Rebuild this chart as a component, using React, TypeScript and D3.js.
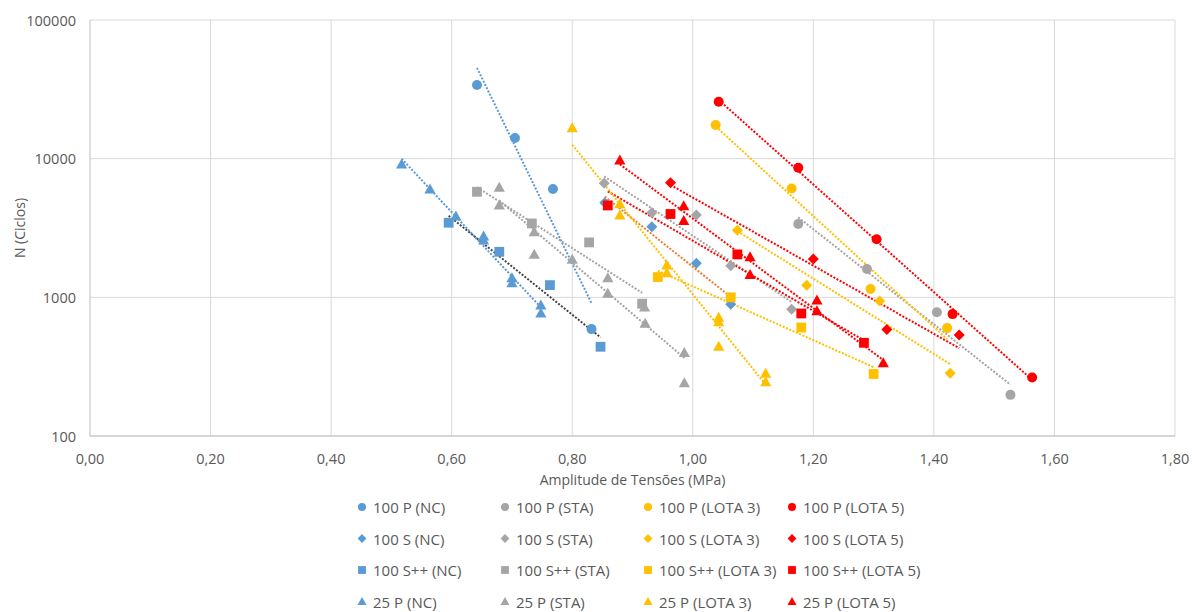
import React from "react";
import * as d3 from "d3";

// ---------- data ----------
const xTicks = [0, 0.2, 0.4, 0.6, 0.8, 1.0, 1.2, 1.4, 1.6, 1.8];
const yTicks = [100, 1000, 10000, 100000];

const p100NcX = [0.642, 0.705, 0.768, 0.832];
const p100NcN = [34000, 14100, 6040, 590];
const s100NcX = [0.854, 0.932, 1.006, 1.063];
const s100NcN = [4800, 3230, 1760, 890];
const spp100NcX = [0.595, 0.679, 0.763, 0.847];
const spp100NcN = [3450, 2130, 1225, 440];
const p25NcX = [0.517, 0.564, 0.607, 0.653, 0.653, 0.7, 0.7, 0.748, 0.748];
const p25NcN = [9150, 6040, 3850, 2770, 2590, 1380, 1270, 880, 770];

const p100StaX = [1.175, 1.289, 1.405, 1.527];
const p100StaN = [3380, 1600, 780, 198];
const s100StaX = [0.853, 0.932, 1.006, 1.063, 1.164];
const s100StaN = [6640, 4070, 3920, 1690, 820];
const spp100StaX = [0.642, 0.733, 0.828, 0.916];
const spp100StaN = [5770, 3410, 2490, 900];
const p25StaX = [0.679, 0.679, 0.737, 0.737, 0.8, 0.859, 0.859, 0.92, 0.921, 0.986, 0.986];
const p25StaN = [6210, 4630, 2970, 2040, 1880, 1380, 1070, 850, 650, 400, 242];

const p100L3X = [1.038, 1.164, 1.295, 1.422];
const p100L3N = [17500, 6100, 1150, 600];
const s100L3X = [1.074, 1.189, 1.31, 1.427];
const s100L3N = [3050, 1220, 940, 283];
const spp100L3X = [0.942, 1.063, 1.18, 1.3];
const spp100L3N = [1400, 1000, 606, 280];
const p25L3X = [0.8, 0.879, 0.879, 0.957, 0.957, 1.043, 1.043, 1.043, 1.121, 1.121];
const p25L3N = [16700, 4730, 3920, 1710, 1500, 716, 666, 444, 283, 246];

const p100L5X = [1.043, 1.175, 1.305, 1.431, 1.563];
const p100L5N = [25700, 8600, 2620, 757, 264];
const s100L5X = [0.963, 1.2, 1.322, 1.442];
const s100L5N = [6700, 1890, 587, 536];
const spp100L5X = [0.859, 0.963, 1.074, 1.18, 1.284];
const spp100L5N = [4600, 3990, 2040, 765, 470];
const p25L5X = [0.879, 0.985, 0.985, 1.095, 1.095, 1.206, 1.206, 1.316];
const p25L5N = [9770, 4570, 3570, 1960, 1460, 955, 800, 337];

const C_NC = "#5B9BD5";
const C_STA = "#A5A5A5";
const C_L3 = "#FFC000";
const C_L5 = "#FF0000";

type Shape = "circle" | "diamond" | "square" | "triangle";
interface Series { name: string; xs: number[]; ns: number[]; color: string; trend: string; shape: Shape; }

const series: Series[] = [
  { name: "100 P (NC)", xs: p100NcX, ns: p100NcN, color: C_NC, trend: C_NC, shape: "circle" },
  { name: "100 P (STA)", xs: p100StaX, ns: p100StaN, color: C_STA, trend: C_STA, shape: "circle" },
  { name: "100 P (LOTA 3)", xs: p100L3X, ns: p100L3N, color: C_L3, trend: C_L3, shape: "circle" },
  { name: "100 P (LOTA 5)", xs: p100L5X, ns: p100L5N, color: C_L5, trend: C_L5, shape: "circle" },
  { name: "100 S (NC)", xs: s100NcX, ns: s100NcN, color: C_NC, trend: "#ED7D31", shape: "diamond" },
  { name: "100 S (STA)", xs: s100StaX, ns: s100StaN, color: C_STA, trend: C_STA, shape: "diamond" },
  { name: "100 S (LOTA 3)", xs: s100L3X, ns: s100L3N, color: C_L3, trend: C_L3, shape: "diamond" },
  { name: "100 S (LOTA 5)", xs: s100L5X, ns: s100L5N, color: C_L5, trend: C_L5, shape: "diamond" },
  { name: "100 S++ (NC)", xs: spp100NcX, ns: spp100NcN, color: C_NC, trend: "#404040", shape: "square" },
  { name: "100 S++ (STA)", xs: spp100StaX, ns: spp100StaN, color: C_STA, trend: C_STA, shape: "square" },
  { name: "100 S++ (LOTA 3)", xs: spp100L3X, ns: spp100L3N, color: C_L3, trend: C_L3, shape: "square" },
  { name: "100 S++ (LOTA 5)", xs: spp100L5X, ns: spp100L5N, color: C_L5, trend: C_L5, shape: "square" },
  { name: "25 P (NC)", xs: p25NcX, ns: p25NcN, color: C_NC, trend: C_NC, shape: "triangle" },
  { name: "25 P (STA)", xs: p25StaX, ns: p25StaN, color: C_STA, trend: C_STA, shape: "triangle" },
  { name: "25 P (LOTA 3)", xs: p25L3X, ns: p25L3N, color: C_L3, trend: C_L3, shape: "triangle" },
  { name: "25 P (LOTA 5)", xs: p25L5X, ns: p25L5N, color: C_L5, trend: C_L5, shape: "triangle" },
];

const FONT = "'Open Sans', sans-serif";
const TXT = "#595959";

function markerPath(shape: Shape, x: number, y: number, s: number): string {
  switch (shape) {
    case "circle": {
      const r = 5 * s;
      return `M${x - r},${y}a${r},${r} 0 1,0 ${2 * r},0a${r},${r} 0 1,0 ${-2 * r},0Z`;
    }
    case "diamond": {
      const h = 5.5 * s;
      return `M${x},${y - h}L${x + h},${y}L${x},${y + h}L${x - h},${y}Z`;
    }
    case "square": {
      const h = 4.9 * s;
      return `M${x - h},${y - h}H${x + h}V${y + h}H${x - h}Z`;
    }
    case "triangle": {
      const w = 5.6 * s;
      return `M${x},${y - 5.6 * s}L${x + w},${y + 4.4 * s}L${x - w},${y + 4.4 * s}Z`;
    }
  }
}

function fit(xs: number[], ns: number[]) {
  const ly = ns.map((n) => Math.log10(n));
  const mx = d3.mean(xs)!;
  const my = d3.mean(ly)!;
  let sxy = 0, sxx = 0;
  xs.forEach((x, i) => { sxy += (x - mx) * (ly[i] - my); sxx += (x - mx) * (x - mx); });
  const b = sxy / sxx;
  const a = my - b * mx;
  return (x: number) => Math.pow(10, a + b * x);
}

export default function App() {
  const left = 90, right = 1175, top = 20, bottom = 436;
  const x = d3.scaleLinear().domain([0, 1.8]).range([left, right]);
  const y = d3.scaleLog().domain([100, 100000]).range([bottom, top]);
  const fmtX = (v: number) => v.toFixed(2).replace(".", ",");

  const legendCols = [362, 505, 648, 792];
  const legendRows = [507, 538.5, 570, 601.5];

  return (
    <svg width={1192} height={612} style={{ position: "absolute", left: 0, top: 0, background: "#fff" }}>
      <rect x={0} y={0} width={1192} height={612} fill="#fff" />
      {/* gridlines */}
      {yTicks.map((t) => (
        <line key={"hy" + t} x1={left} x2={right} y1={y(t)} y2={y(t)} stroke="#D9D9D9" strokeWidth={1} />
      ))}
      {xTicks.map((t) => (
        <line key={"vx" + t} x1={x(t)} x2={x(t)} y1={top} y2={bottom} stroke={t === 0 ? "#BFBFBF" : "#D9D9D9"} strokeWidth={1} />
      ))}
      <line x1={left} x2={right} y1={bottom} y2={bottom} stroke="#BFBFBF" strokeWidth={1} />
      {/* tick labels */}
      {yTicks.map((t) => (
        <text key={"ly" + t} x={76} y={y(t)} textAnchor="end" dominantBaseline="central" fontFamily={FONT} fontSize={14.5} fill={TXT}>
          {String(t)}
        </text>
      ))}
      {xTicks.map((t) => (
        <text key={"lx" + t} x={x(t)} y={458} textAnchor="middle" dominantBaseline="central" fontFamily={FONT} fontSize={14.5} fill={TXT}>
          {fmtX(t)}
        </text>
      ))}
      <text x={(left + right) / 2} y={479} textAnchor="middle" dominantBaseline="central" fontFamily={FONT} fontSize={14} fill={TXT}>
        Amplitude de Tensões (MPa)
      </text>
      <text transform={`translate(19,${(top + bottom) / 2}) rotate(-90)`} textAnchor="middle" dominantBaseline="central" fontFamily={FONT} fontSize={14} fill={TXT}>
        N (Ciclos)
      </text>
      {/* trendlines */}
      {series.map((s) => {
        const f = fit(s.xs, s.ns);
        const x0 = d3.min(s.xs)!, x1 = d3.max(s.xs)!;
        return (
          <line key={"tr" + s.name} x1={x(x0)} y1={y(f(x0))} x2={x(x1)} y2={y(f(x1))}
            stroke={s.trend} strokeWidth={2} strokeDasharray="2,1.6" />
        );
      })}
      {/* markers */}
      {series.map((s) => (
        <g key={"m" + s.name}>
          {s.xs.map((xv, i) => (
            <path key={i} d={markerPath(s.shape, x(xv), y(s.ns[i]), 1)} fill={s.color} />
          ))}
        </g>
      ))}
      {/* legend */}
      {series.map((s, i) => {
        const col = i % 4;
        const row = Math.floor(i / 4);
        const lx = legendCols[col];
        const ly = legendRows[row];
        return (
          <g key={"lg" + s.name}>
            <path d={markerPath(s.shape, lx, ly, 0.8)} fill={s.color} />
            <text x={lx + 11} y={ly} dominantBaseline="central" fontFamily={FONT} fontSize={15} fill={TXT}>
              {s.name}
            </text>
          </g>
        );
      })}
    </svg>
  );
}
